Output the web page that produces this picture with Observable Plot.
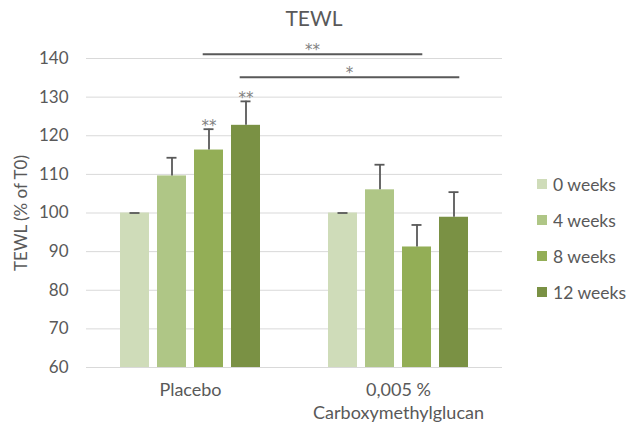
<!DOCTYPE html>
<html>
<head>
<meta charset="utf-8">
<script src="https://cdn.jsdelivr.net/npm/d3@7"></script>
<script src="https://cdn.jsdelivr.net/npm/@observablehq/plot@0.6"></script>
<style>
  html, body { margin: 0; padding: 0; background: #fff; }
  #wrap { position: relative; width: 628px; height: 426px; overflow: hidden; font-family: Lato, "Open Sans", sans-serif; color: #595959; }
  #title { position: absolute; left: 0; top: 4px; width: 628px; text-align: center; font-size: 21px; line-height: 28px; }
  #chart { position: absolute; left: 0; top: 30px; }
  #legend { position: absolute; left: 537px; top: 166px; }
  #legend .lg-swatch { height: 36px !important; padding-bottom: 0 !important; margin: 0 !important; display: flex !important; align-items: center !important; }
  #legend .lg-swatch svg { margin-right: 6px !important; }
</style>
</head>
<body>
<div id="wrap">
  <div id="title">TEWL</div>
  <div id="chart"></div>
  <div id="legend"></div>
</div>
<script>
// ---- data ----
const groups = ["Placebo", "0,005 %\nCarboxymethylglucan"];
const weeks = ["0 weeks", "4 weeks", "8 weeks", "12 weeks"];
const placeboMeans = [100, 109.6, 116.3, 122.7];
const placeboErrors = [0, 4.7, 5.4, 6.2];
const cmgMeans = [100, 106.0, 91.2, 98.9];
const cmgErrors = [0, 6.5, 5.7, 6.5];
const weekColors = ["#cfdcb9", "#afc686", "#93ae56", "#7a9144"];
const yTicks = [60, 70, 80, 90, 100, 110, 120, 130, 140];
const yDomain = [60, 140];
const yLabel = "TEWL (% of T0)";
// significance vs. T0 above bars
const sigGroups = ["Placebo", "Placebo"];
const sigWeeks = ["8 weeks", "12 weeks"];
const sigLabels = ["**", "**"];
// significance brackets between groups
const bracketWeeks = ["8 weeks", "12 weeks"];
const bracketLevels = [141, 135];
const bracketLabels = ["**", "*"];

// ---- tables built from arrays ----
const rows = [];
[[placeboMeans, placeboErrors], [cmgMeans, cmgErrors]].forEach(([m, e], gi) => {
  weeks.forEach((w, wi) => rows.push({group: groups[gi], week: w, value: m[wi], err: e[wi]}));
});
const sig = sigGroups.map((g, i) => {
  const r = rows.find(d => d.group === g && d.week === sigWeeks[i]);
  return {group: g, week: sigWeeks[i], top: r.value + r.err, label: sigLabels[i]};
});
const brackets = bracketWeeks.map((w, i) => ({group1: groups[0], group2: groups[1], week: w, y: bracketLevels[i], label: bracketLabels[i]}));
const baseline = yDomain[0];
const ink = "#595959";
const starFont = "'DejaVu Sans', sans-serif";

const chart = Plot.plot({
  width: 628,
  height: 396,
  marginTop: 28,
  marginBottom: 59,
  marginLeft: 86,
  marginRight: 126,
  style: {fontFamily: "Lato, 'Open Sans', sans-serif", fontSize: "16px", color: ink, background: "#fff"},
  fx: {domain: groups, padding: 0},
  x: {domain: weeks, axis: null, paddingInner: 0.21, paddingOuter: 0.842},
  y: {domain: yDomain},
  color: {domain: weeks, range: weekColors},
  marks: [
    Plot.gridY(yTicks, {stroke: "#d9d9d9", strokeOpacity: 1, strokeWidth: 1}),
    Plot.axisY({ticks: yTicks, tickSize: 0, tickPadding: 18, fontSize: 17, label: yLabel, labelAnchor: "center", labelOffset: 72, labelArrow: "none"}),
    Plot.axisFx({anchor: "bottom", tickSize: 0, tickPadding: 13, label: null, fontSize: 18, lineHeight: 1.25}),
    Plot.barY(rows, {fx: "group", x: "week", y1: baseline, y2: "value", fill: "week"}),
    Plot.ruleX(rows, {fx: "group", x: "week", y1: "value", y2: d => d.value + d.err, stroke: ink, strokeWidth: 1.8}),
    Plot.tickY(rows, {fx: "group", x: "week", y: d => d.value + d.err, stroke: ink, strokeWidth: 1.8, insetLeft: 9.5, insetRight: 9.5}),
    Plot.text(sig, {fx: "group", x: "week", y: "top", text: "label", fill: "#808080", fontSize: 15, fontFamily: starFont, lineAnchor: "bottom", dy: 2}),
    Plot.ruleY(brackets, {
      fx: "group1", y: "y",
      render(index, scales) {
        const g = d3.create("svg:g");
        const bw = scales.x.bandwidth ? scales.x.bandwidth() : 0;
        const ext = bw * 0.2;
        for (const i of index) {
          const b = brackets[i];
          const xa = scales.x(b.week) + bw / 2 - ext;
          const xb = scales.fx(b.group2) - scales.fx(b.group1) + scales.x(b.week) + bw / 2 + ext;
          const yy = scales.y(b.y);
          g.append("line").attr("x1", xa).attr("x2", xb).attr("y1", yy).attr("y2", yy)
            .attr("stroke", ink).attr("stroke-width", 2);
          g.append("text").attr("x", (xa + xb) / 2).attr("y", yy + 1)
            .attr("text-anchor", "middle").attr("fill", "#808080").attr("font-size", 15)
            .attr("font-family", starFont)
            .text(b.label);
        }
        return g.node();
      }
    })
  ]
});
document.getElementById("chart").appendChild(chart);

const legend = Plot.legend({
  color: {domain: weeks, range: weekColors},
  legend: "swatches",
  columns: 1,
  swatchSize: 10,
  className: "lg",
  style: {fontFamily: "Lato, 'Open Sans', sans-serif", fontSize: "17.5px", color: ink}
});
document.getElementById("legend").appendChild(legend);
</script>
</body>
</html>
